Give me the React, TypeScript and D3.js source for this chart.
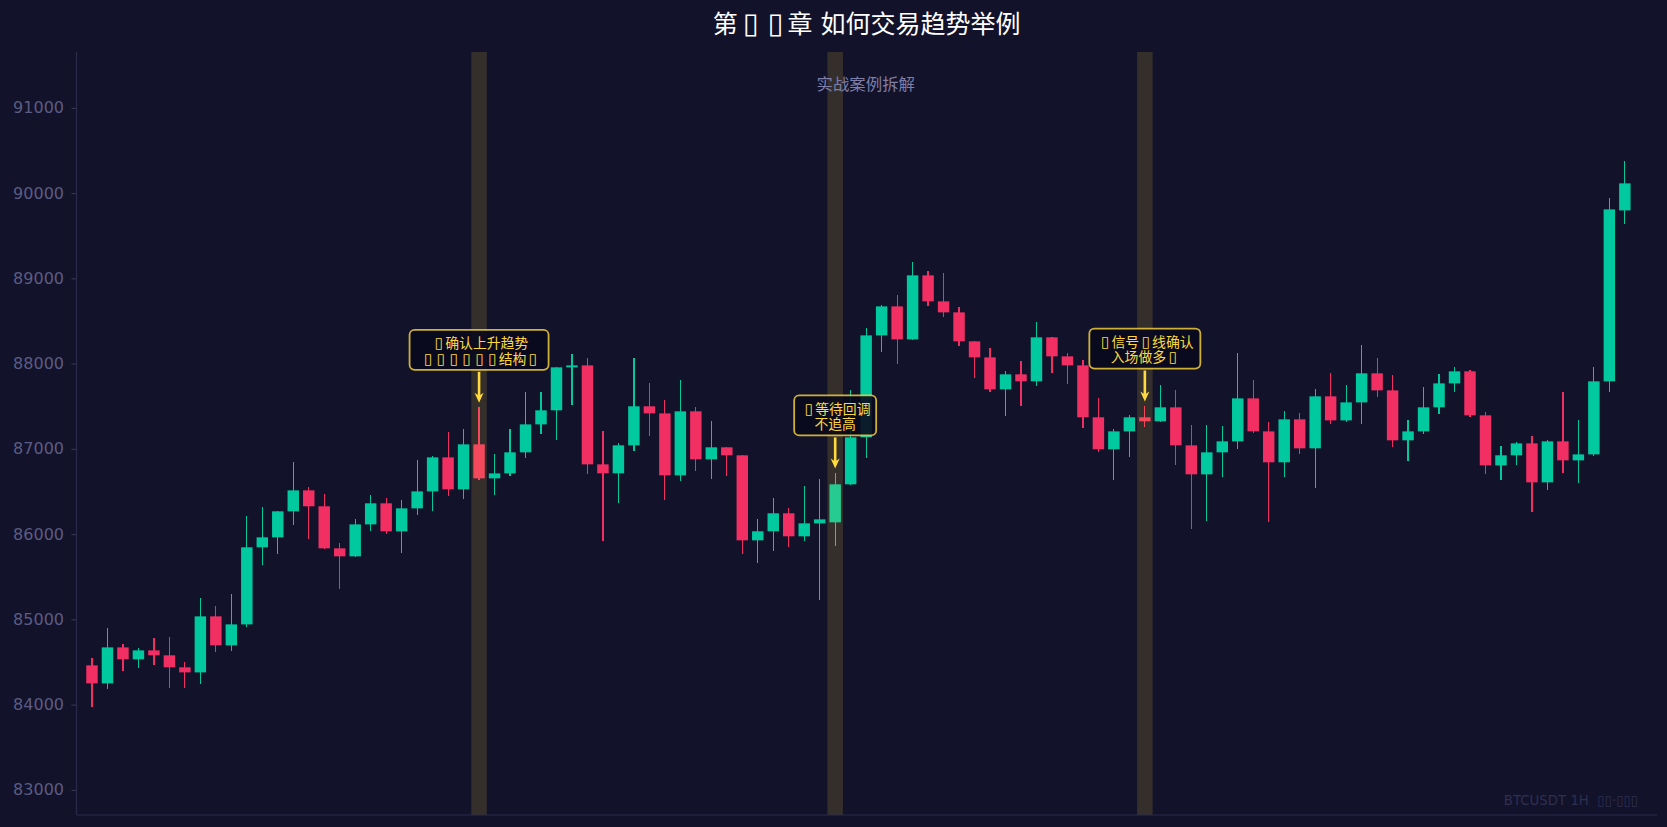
import React, { useRef, useEffect } from "react";
import * as d3 from "d3";

const opens = [84460,84249,84671,84531,84636,84578,84437,84378,85035,84695,84941,85845,85962,86267,86513,86326,85833,85739,86114,86361,86032,86302,86501,86900,86525,87053,86654,86712,86959,87287,87452,87956,87979,86818,86713,87041,87499,87416,86689,87440,86877,87018,86924,85927,86033,86244,85974,86126,86138,86584,87135,88331,88671,88284,89035,88730,88601,88261,88073,87698,87874,87792,88308,88085,87979,87370,86995,87205,87370,87323,87487,87041,86701,86959,87088,87592,87205,86842,87346,87006,87616,87334,87545,87886,87686,87100,87205,87487,87768,87909,87393,86806,86924,87064,86607,87088,86865,86935,87792,89797];
const closes = [84249,84671,84531,84636,84578,84437,84378,85035,84695,84941,85845,85962,86267,86513,86326,85833,85739,86114,86361,86032,86302,86501,86900,86525,87053,86654,86712,86959,87287,87452,87956,87979,86818,86713,87041,87499,87416,86689,87440,86877,87018,86924,85927,86033,86244,85974,86126,86173,86584,87135,88331,88671,88284,89035,88730,88601,88261,88073,87698,87874,87792,88308,88085,87979,87370,86995,87205,87370,87323,87487,87041,86701,86959,87088,87592,87205,86842,87346,87006,87616,87334,87545,87886,87686,87100,87205,87487,87768,87909,87393,86806,86924,87064,86607,87088,86865,86935,87792,89809,90114];
const highs = [84542,84894,84707,84660,84777,84789,84496,85246,85152,85293,86208,86314,86267,86842,86548,86466,85892,86173,86455,86419,86396,86865,86912,87194,87229,87487,86935,87229,87663,87663,87956,88108,88062,87205,87064,88062,87768,87569,87804,87487,87323,87018,86924,86173,86419,86302,86560,86642,86713,87686,88413,88683,88800,89187,89082,89059,88660,88261,88179,87909,88026,88484,88308,88120,88038,87592,87229,87393,87499,87745,87686,87276,87276,87264,88120,87803,87311,87440,87416,87698,87886,87745,88214,88062,87862,87334,87721,87874,87956,87921,87428,87029,87076,87147,87100,87663,87334,87956,89938,90372];
const lows = [83968,84179,84390,84425,84460,84191,84191,84238,84613,84625,84906,85633,85762,86103,85938,85821,85352,85727,86032,85997,85774,86220,86267,86443,86408,86630,86455,86677,86888,87170,87100,87510,86701,85915,86361,86971,87147,86396,86619,86736,86642,86677,85762,85657,85798,85845,85915,85223,85856,86572,86889,88132,87991,88272,88671,88542,88202,87827,87663,87381,87499,87733,87886,87757,87240,86959,86631,86900,87252,87311,86806,86056,86150,86666,86994,87182,86138,86666,86935,86537,87287,87311,87287,87604,87018,86853,87170,87405,87663,87370,86701,86631,86806,86255,86513,86713,86595,86912,87663,89633];

const yTicks = [83000,84000,85000,86000,87000,88000,89000,90000,91000];
const bandIndexes = [25,48,68];
const calloutIndexes = [25,48,68];
const calloutPrices = [87540,86770,87555];
const calloutLines = [
  ["▯确认上升趋势","▯▯▯▯▯▯结构▯"],
  ["▯等待回调","不追高"],
  ["▯信号▯线确认","入场做多▯"],
];
const calloutWidths = [139,82,111];

const titleText = "第▯▯章 如何交易趋势举例";
const subtitleText = "实战案例拆解";
const footerText = "BTCUSDT 1H\u00a0\u00a0▯▯·▯▯▯";

const W = 1667, H = 827;
const FONT = "'DejaVu Sans','Noto Sans CJK SC',sans-serif";
const UP = "#00c9a0", DOWN = "#f22f63", GOLD = "#ffd93d";

// the tofu glyphs are a bit bigger and on a wider pitch than the real font
const addText = (g, text, x, y, size, fill, pre = 0, post = 0, bump = 1) => {
  const t = g.append("text").attr("x", x).attr("y", y).attr("text-anchor", "middle")
    .attr("font-size", size).attr("font-family", FONT).attr("fill", fill);
  Array.from(text).forEach((ch) => {
    const s = t.append("tspan").text(ch);
    if (ch === "▯") s.attr("dx", pre).attr("letter-spacing", post).attr("font-size", size * bump);
  });
  return t;
};

const App = () => {
  const ref = useRef(null);

  useEffect(() => {
    const svg = d3.select(ref.current);
    svg.selectAll("*").remove();

    const left = 76.5, right = 1657, top = 52, bottom = 815;
    const x = d3.scaleLinear().domain([-1, 101]).range([left, 1655.8]);
    const y = d3.scaleLinear().domain([82705, 91655]).range([bottom, top]);
    const step = x(1) - x(0);

    svg.append("rect").attr("width", W).attr("height", H).attr("fill", "#12122a");

    const idx = d3.range(opens.length);
    const color = (i) => (closes[i] >= opens[i] ? UP : DOWN);

    svg.append("g").attr("shape-rendering", "crispEdges").selectAll("line").data(idx).join("line")
      .attr("x1", (i) => x(i)).attr("x2", (i) => x(i))
      .attr("y1", (i) => y(highs[i])).attr("y2", (i) => y(lows[i]))
      .attr("stroke", color).attr("stroke-width", 1.2);

    svg.append("g").selectAll("rect").data(idx).join("rect")
      .attr("x", (i) => x(i - 0.37)).attr("width", step * 0.74)
      .attr("y", (i) => y(Math.max(opens[i], closes[i])))
      .attr("height", (i) => Math.max(1, Math.abs(y(opens[i]) - y(closes[i]))))
      .attr("fill", color);

    svg.append("g").selectAll("rect").data(bandIndexes).join("rect")
      .attr("x", (i) => x(i - 0.5)).attr("width", step)
      .attr("y", top).attr("height", bottom - top)
      .attr("fill", GOLD).attr("opacity", 0.15);

    const axis = svg.append("g").attr("transform", `translate(${left},0)`)
      .call(d3.axisLeft(y).tickValues(yTicks).tickFormat(d3.format("d")).tickSize(5).tickPadding(7.5));
    axis.select(".domain").remove();
    axis.selectAll("line").attr("stroke", "#3a3a5c");
    axis.selectAll("text").attr("fill", "#5c5c82").attr("font-size", 16).attr("font-family", FONT);

    svg.append("line").attr("x1", left).attr("x2", left).attr("y1", top).attr("y2", bottom)
      .attr("stroke", "#2a2a4a").attr("stroke-width", 1.2);
    svg.append("line").attr("x1", left).attr("x2", right).attr("y1", bottom).attr("y2", bottom)
      .attr("stroke", "#2a2a4a").attr("stroke-width", 1.2);

    addText(svg, titleText, (left + right) / 2, 32.5, 25, "#ffffff", 5, 4, 1.15);
    addText(svg, subtitleText, (left + right) / 2 - 1, 90, 16.4, "#7e7ea6");
    addText(svg, footerText, 1571, 805, 13.3, "#2f2f50");

    calloutIndexes.forEach((i, k) => {
      const g = svg.append("g");
      const cx = x(i), tip = y(calloutPrices[k]);
      const w = calloutWidths[k];
      const boxBottom = tip - 33;
      const boxTop = boxBottom - 40;
      g.append("rect").attr("x", cx - w / 2).attr("y", boxTop).attr("width", w).attr("height", 40)
        .attr("rx", 5).attr("fill", "#0a0a1e").attr("fill-opacity", 0.9)
        .attr("stroke", GOLD).attr("stroke-opacity", 0.8).attr("stroke-width", 1.8);
      g.append("line").attr("x1", cx).attr("x2", cx).attr("y1", boxBottom + 2).attr("y2", tip - 6)
        .attr("stroke", GOLD).attr("stroke-width", 2.6);
      g.append("path")
        .attr("d", `M${cx},${tip}L${cx - 4.5},${tip - 10}L${cx},${tip - 7}L${cx + 4.5},${tip - 10}Z`)
        .attr("fill", GOLD);
      calloutLines[k].forEach((ln, j) => {
        addText(g, ln, cx, boxTop + 18.3 + j * 15.5, 13.85, GOLD, 2.5, 2, 1.1);
      });
    });
  }, []);

  return (
    <svg
      ref={ref}
      width={W}
      height={H}
      style={{ position: "fixed", left: 0, top: 0, display: "block" }}
    />
  );
};

export default App;
